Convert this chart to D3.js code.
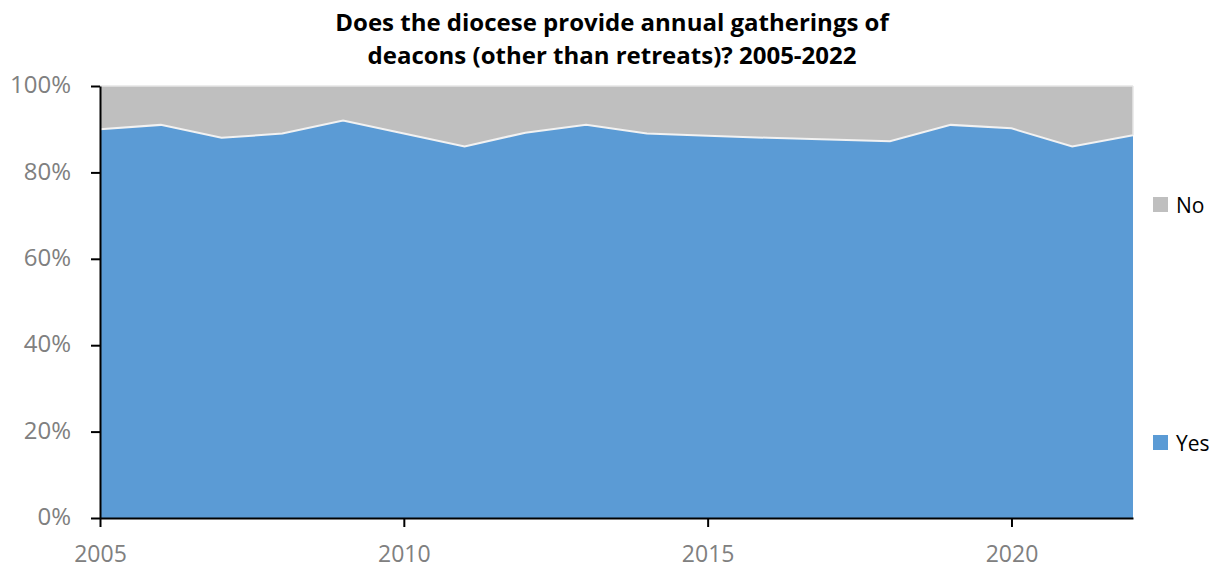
<!DOCTYPE html>
<html><head><meta charset="utf-8">
<script src="https://cdn.jsdelivr.net/npm/d3@7"></script>
<style>body{margin:0;background:#fff}svg{display:block}</style>
</head><body>
<svg id="c" width="1225" height="569"></svg>
<script>
const years = [2005,2006,2007,2008,2009,2010,2011,2012,2013,2014,2015,2016,2017,2018,2019,2020,2021,2022];
const yesValues = [90,91,88,89,92,89,86,89.2,91,89,88.5,88,87.6,87.2,91,90.2,86,88.6];
const noValues = [10,9,12,11,8,11,14,10.8,9,11,11.5,12,12.4,12.8,9,9.8,14,11.4];
const seriesNames = ["Yes","No"];
const yTickValues = [0,20,40,60,80,100];
const xTickValues = [2005,2010,2015,2020];
const titleLines = ["Does the diocese provide annual gatherings of","deacons (other than retreats)? 2005-2022"];

const colors = {Yes:"#5b9bd5", No:"#bfbfbf"};
const svg = d3.select("#c");
const m = {left:100, right:1133, top:86, bottom:518};
const x = d3.scaleLinear().domain([2005,2022]).range([m.left,m.right]);
const y = d3.scaleLinear().domain([0,100]).range([m.bottom,m.top]);

const rows = years.map((yr,i)=>({year:yr, Yes:yesValues[i], No:noValues[i]}));
const stack = d3.stack().keys(seriesNames)(rows);

const area = d3.area().x(d=>x(d.data.year)).y0(d=>y(d[0])).y1(d=>y(d[1]));
svg.append("g").selectAll("path").data(stack).join("path")
  .attr("d",area).attr("fill",d=>colors[d.key]);

const line = d3.line().x(d=>x(d.data.year)).y(d=>y(d[1]));
svg.append("path").datum(stack[0]).attr("d",line)
  .attr("fill","none").attr("stroke","#f2f2f2").attr("stroke-width",2);
svg.append("path").datum(stack[1]).attr("d",line)
  .attr("fill","none").attr("stroke","#e6e6e6").attr("stroke-width",1.5);
svg.append("line").attr("x1",m.right).attr("x2",m.right).attr("y1",m.top).attr("y2",y(yesValues[yesValues.length-1]))
  .attr("stroke","#e6e6e6").attr("stroke-width",1.5);

const font = "'Open Sans', sans-serif";
const ya = svg.append("g").attr("transform",`translate(${m.left},0)`)
  .call(d3.axisLeft(y).tickValues(yTickValues).tickFormat(d=>d+"%").tickSize(9).tickSizeOuter(0));
ya.select(".domain").attr("stroke","#000").attr("stroke-width",2);
ya.selectAll(".tick line").attr("stroke","#000").attr("stroke-width",2);
ya.selectAll(".tick text").attr("x",-29).attr("dy","0.28em").attr("fill","#808080").attr("font-size",24).attr("font-family",font);

const xa = svg.append("g").attr("transform",`translate(0,${m.bottom})`)
  .call(d3.axisBottom(x).tickValues(xTickValues).tickFormat(d3.format("d")).tickSize(9).tickSizeOuter(0));
xa.select(".domain").attr("stroke","#000").attr("stroke-width",2);
xa.selectAll(".tick line").attr("stroke","#000").attr("stroke-width",2);
xa.selectAll(".tick text").attr("y",28).attr("fill","#808080").attr("font-size",23).attr("font-family",font);

const tg = svg.append("g");
const tt = tg.selectAll("text").data(titleLines).join("text")
  .attr("x",612).attr("y",(d,i)=>31+i*33).attr("text-anchor","middle")
  .attr("font-family",font).attr("font-weight","bold").attr("font-size",22).attr("fill","#000")
  .text(d=>d);
const w0 = tt.nodes()[0].getComputedTextLength();
if (w0 > 0) {
  const fs = Math.max(18, Math.min(24, 22*592/w0));
  tt.attr("font-size", fs);
}

const legendItems = [{key:"No", yy:204.5},{key:"Yes", yy:442.5}];
const lg = svg.append("g");
lg.selectAll("rect").data(legendItems).join("rect")
  .attr("x",1153).attr("y",d=>d.yy-7.5).attr("width",15).attr("height",15)
  .attr("fill",d=>colors[d.key]);
lg.selectAll("text").data(legendItems).join("text")
  .attr("x",1176).attr("y",d=>d.yy+8).attr("font-size",21).attr("font-family",font).attr("fill","#000")
  .text(d=>d.key);
</script>
</body></html>
